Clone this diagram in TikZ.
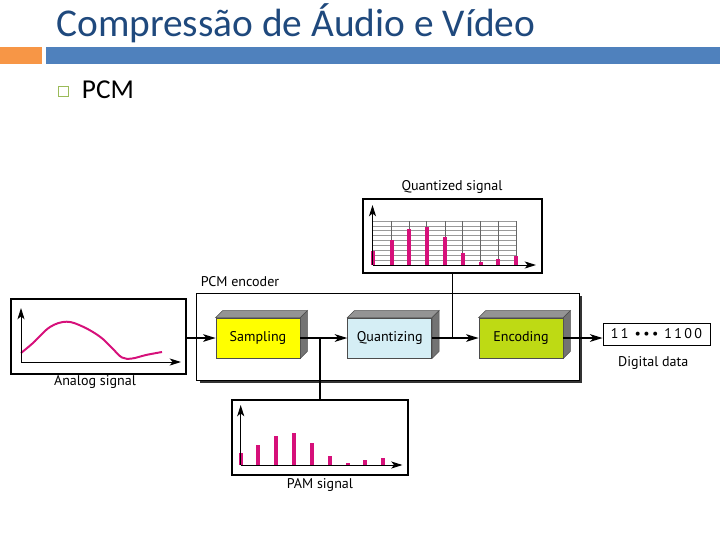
\documentclass[tikz,border=0pt]{standalone}
\usepackage{fontspec}
\setmainfont{Carlito}
\newfontfamily\figfont{PT Sans}
\usetikzlibrary{arrows.meta,calc,shadows}

\definecolor{titleblue}{RGB}{31,73,125}
\definecolor{barblue}{RGB}{79,129,189}
\definecolor{barorange}{RGB}{247,150,70}
\definecolor{bulletgreen}{RGB}{155,187,89}
\definecolor{sigpink}{RGB}{214,16,122}
\definecolor{sampyellow}{RGB}{255,255,0}
\definecolor{quantblue}{RGB}{213,238,245}
\definecolor{encgreen}{RGB}{190,218,20}

\tikzset{
  plotbox/.style={draw, line width=0.8pt, inner sep=0pt},
  block/.style={draw=black!70, line width=0.5pt, minimum width=2.1cm, minimum height=1cm, font=\figfont\fontsize{10}{12}\selectfont},
  caption/.style={font=\figfont\fontsize{10}{12}\selectfont, inner sep=0pt, anchor=base},
  arr/.style={-{Stealth[length=9pt,width=5.5pt,inset=2.5pt]}, line width=0.8pt},
  axis/.style={-{Stealth[length=8pt,width=5pt,inset=2pt]}, line width=0.7pt},
  pulse/.style={sigpink, line width=0.1cm},
  topface/.style={fill=black!42, draw=black!70, line width=0.4pt},
  sideface/.style={fill=black!55, draw=black!70, line width=0.4pt}
}

\begin{document}
\begin{tikzpicture}[x=0.025cm, y=-0.025cm]
  \useasboundingbox (0,0) rectangle (720,540);

  % slide header
  \node[anchor=base west, inner sep=0pt, text=titleblue, font=\fontsize{28}{32}\selectfont] (title) at (56,36) {Compressão de Áudio e Vídeo};
  \fill[barorange] (0,46.5) rectangle (42,64);
  \fill[barblue] (46,46.5) rectangle (720,64);
  \node[draw=bulletgreen, line width=0.8pt, minimum size=0.25cm, inner sep=0pt] (bullet) at (63.7,91.7) {};
  \node[anchor=base west, inner sep=0pt, font=\fontsize{19.4}{23}\selectfont] (pcmitem) at (81.7,98.3) {PCM};

  % encoder frame
  \node[draw, line width=0.7pt, fill=white, minimum width=9.55cm, minimum height=2.175cm,
        drop shadow={shadow xshift=2.1pt, shadow yshift=-2.1pt, fill=black!80, opacity=1}] (pcm) at (388,336.5) {};
  \node[caption, anchor=base west] (pcmlab) at (200.5,286.7) {PCM encoder};

  % blocks
  \node[block, fill=sampyellow] (samp) at (258,338) {Sampling};
  \node[block, fill=quantblue] (quant) at (389.7,338) {Quantizing};
  \node[block, fill=encgreen] (enc) at (521,338) {Encoding};
  \foreach \n in {samp,quant,enc} {
    \filldraw[topface] (\n.north west) -- ++(7,-7) -- ($(\n.north east)+(7,-7)$) -- (\n.north east) -- cycle;
    \filldraw[sideface] (\n.north east) -- ++(7,-7) -- ($(\n.south east)+(7,-7)$) -- (\n.south east) -- cycle;
  }

  % analog signal
  \node[plotbox, minimum width=4.375cm, minimum height=1.875cm] (abox) at (98.5,336.5) {};
  \node[caption] (alab) at (95,385) {Analog signal};
  \draw[sigpink, line width=1.4pt] plot[smooth, tension=0.6] coordinates {(21,353) (33,343) (50,327) (66.7,321.7) (83,326.7) (100,336.7) (112,348) (122,357.5) (132,358.5) (146,355) (162,352)};
  \draw[axis] (21,362) -- (21,308);
  \draw[axis] (21,362) -- (181,362);

  % quantized signal
  \node[plotbox, minimum width=4.475cm, minimum height=1.85cm] (qbox) at (452.5,236) {};
  \node[caption] (qlab) at (452,190.7) {Quantized signal};
  \foreach \y in {221,226,230.5,235,240,245,250,255,260}
    \draw[black!40, line width=0.4pt] (373,\y) -- (516,\y);
  \foreach \x in {391.7,409.3,426.7,445,462.7,480.7,498,516}
    \draw[black!60, line width=0.4pt] (\x,221) -- (\x,265);
  \foreach \x/\h in {373.3/250.7, 391.7/240, 409.3/229.3, 426.7/226.7, 445/237.3, 462.7/253.3, 480.7/262, 498/259.3, 516/256}
    \draw[pulse] (\x,265) -- (\x,\h);
  \draw[axis] (372.5,265) -- (372.5,205);
  \draw[axis] (372.5,265) -- (536,265);

  % PAM signal
  \node[plotbox, minimum width=4.4cm, minimum height=1.875cm] (pam) at (320,437.5) {};
  \node[caption] (plab) at (320,488.3) {PAM signal};
  \foreach \x/\h in {240.7/453.3, 258.3/445, 276/435.7, 294/433.3, 311.7/442.7, 330/456, 347.7/463.3, 365.3/460, 383.3/458}
    \draw[pulse] (\x,465) -- (\x,\h);
  \draw[axis] (240.7,465) -- (240.7,405);
  \draw[axis] (240.7,465) -- (402.5,465);

  % digital data
  \node[draw, line width=0.6pt, minimum width=2.675cm, minimum height=0.55cm, font=\figfont\fontsize{10}{11}\selectfont] (dig) at (656.5,334) {1\,1 \,•\,•\,•\, 1\,1\,0\,0};
  \node[caption] (dlab) at (653.3,366) {Digital data};

  % connectors
  \coordinate (pamtap) at (pam.north |- samp.east);
  \coordinate (qtap) at (qbox.south |- quant.east);
  \draw[arr] (abox.east |- samp.west) -- (samp.west);
  \draw[arr] (samp.east) -- (quant.west);
  \draw[line width=0.8pt] (pamtap) -- (pam.north);
  \draw[arr] (quant.east) -- (enc.west);
  \draw[line width=0.8pt] (qbox.south) -- (qtap);
  \draw[arr] (enc.east) -- (enc.east -| dig.west);
\end{tikzpicture}
\end{document}
